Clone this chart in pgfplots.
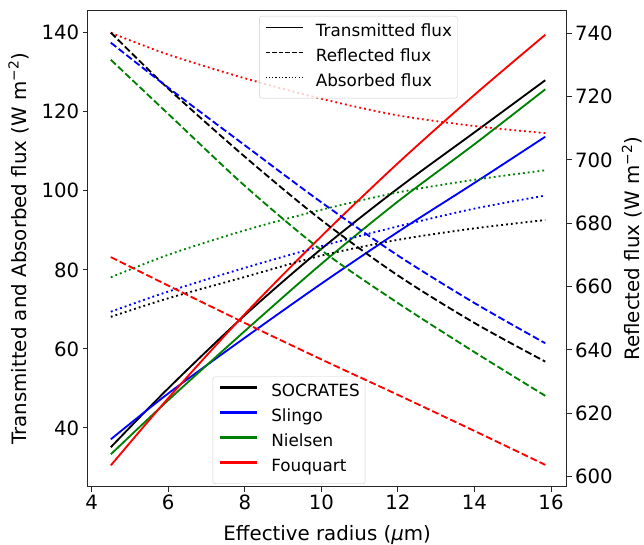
\documentclass[border=0pt]{standalone}
\usepackage{fontspec}
\setmainfont{DejaVu Sans}
\usepackage{pgfplots}
\pgfplotsset{compat=1.18}
\definecolor{mplgreen}{rgb}{0,0.5,0}
\begin{document}
\begin{tikzpicture}
\pgfplotsset{
  common/.style={
    scale only axis, width=479bp, height=476bp,
    xmin=3.896, xmax=16.41,
    tick align=outside, major tick length=4.9bp,
    /pgf/number format/assume math mode=true,
    tick label style={font=\fontsize{19.7bp}{23bp}\selectfont},
    label style={font=\fontsize{19.8bp}{23bp}\selectfont},
    axis line style={black!85, line width=1bp},
    every tick/.style={black!85, line width=1bp},
    legend cell align=left,
    legend style={font=\fontsize{16.8bp}{20bp}\selectfont, draw=black!20, fill=white,
      fill opacity=0.8, text opacity=1, rounded corners=2.5bp,
      inner xsep=5.5bp, inner ysep=8bp, row sep=9bp,
      nodes={inner sep=0pt, text height=12.2bp, text depth=3.8bp},
      /tikz/every odd column/.append style={column sep=12.7bp}},
    legend image code/.code={\draw[##1] (0bp,5bp) -- (37bp,5bp);},
  },
  tl/.style={line width=1.85bp, line join=round},
  dl/.style={line width=1.85bp, dash pattern=on 6.9bp off 3bp},
  al/.style={line width=1.85bp, dash pattern=on 1.85bp off 3.05bp},
}
\begin{axis}[common,
  ymin=25.1, ymax=145.6,
  xtick={4,6,...,16}, ytick={40,60,...,140},
  xtick pos=bottom, ytick pos=left,
  xlabel={Effective radius (\textit{μ}m)},
  ylabel={Transmitted and Absorbed flux (W m\textsuperscript{−2})},
  xlabel style={at={(axis description cs:0.5,0)}, anchor=base, yshift=-53.3bp},
  ylabel style={at={(axis description cs:-0.1288,0.5)}, anchor=base},
  legend style={at={(rel axis cs:0.261,0.0057)}, anchor=south west},
]
\coordinate (bl) at (rel axis cs:0,0);
\addlegendimage{black, line width=3.2bp}\addlegendentry{SOCRATES}
\addlegendimage{blue, line width=3.2bp}\addlegendentry{Slingo}
\addlegendimage{mplgreen, line width=3.2bp}\addlegendentry{Nielsen}
\addlegendimage{red, line width=3.2bp}\addlegendentry{Fouquart}
% Transmitted
\addplot[tl, black, smooth] coordinates {(4.5,35.1)(6,50.0)(8,68.5)(10,85.3)(12,100.6)(14,114.8)(15.85,128.0)};
\addplot[tl, blue, smooth] coordinates {(4.5,37.1)(6,48.7)(8,62.8)(10,76.5)(12,89.6)(14,102.0)(15.85,113.7)};
\addplot[tl, mplgreen, smooth] coordinates {(4.5,33.3)(6,47.0)(8,64.5)(10,81.5)(12,97.3)(14,111.8)(15.85,125.7)};
\addplot[tl, red, smooth] coordinates {(4.5,30.5)(6,47.5)(8,68.8)(10,88.5)(12,107.0)(14,124.3)(15.85,139.5)};
% Absorbed
\addplot[al, black, smooth] coordinates {(4.5,68.1)(6,72.8)(8,78.2)(10,83.6)(12,87.6)(14,90.5)(15.85,92.6)};
\addplot[al, blue, smooth] coordinates {(4.5,69.4)(6,74.5)(8,80.5)(10,86.0)(12,91.0)(14,95.5)(15.85,98.8)};
\addplot[al, mplgreen, smooth] coordinates {(4.5,78.1)(6,83.8)(8,90.0)(10,95.2)(12,99.6)(14,102.8)(15.85,105.2)};
\addplot[al, red, smooth] coordinates {(4.5,140.0)(6,134.5)(8,128.5)(10,123.3)(12,119.1)(14,116.4)(15.85,114.6)};
\end{axis}
\begin{axis}[common,
  ymin=596.8, ymax=747.1,
  hide x axis, axis y line*=right, ytick pos=right,
  ytick={600,620,...,740},
  ylabel={Reflected flux (W m\textsuperscript{−2})},
  ylabel style={at={(axis description cs:1.152,0.5)}, anchor=base, rotate=0},
  legend style={at={(rel axis cs:0.358,0.989)}, anchor=north west},
]
\addlegendimage{black, line width=1.25bp}\addlegendentry{Transmitted flux}
\addlegendimage{black, line width=1.25bp, dash pattern=on 4.6bp off 2bp}\addlegendentry{Reflected flux}
\addlegendimage{black, line width=1.25bp, dash pattern=on 1.25bp off 2.05bp}\addlegendentry{Absorbed flux}
% Reflected
\addplot[dl, black, smooth] coordinates {(4.5,740.2)(6,722.5)(8,701.0)(10,681.0)(12,663.5)(14,648.5)(15.85,636.3)};
\addplot[dl, blue, smooth] coordinates {(4.5,737.0)(6,722.8)(8,704.6)(10,686.6)(12,669.8)(14,654.8)(15.85,642.1)};
\addplot[dl, mplgreen, smooth] coordinates {(4.5,731.6)(6,714.5)(8,691.8)(10,671.5)(12,654.8)(14,639.3)(15.85,625.5)};
\addplot[dl, red, smooth] coordinates {(4.5,669.3)(6,660.3)(8,648.5)(10,637.0)(12,625.8)(14,614.4)(15.85,603.7)};
\end{axis}
\pgfresetboundingbox
\useasboundingbox (bl) ++(-87.7bp,-58.3bp) rectangle ++(644bp,545bp);
\end{tikzpicture}
\end{document}
